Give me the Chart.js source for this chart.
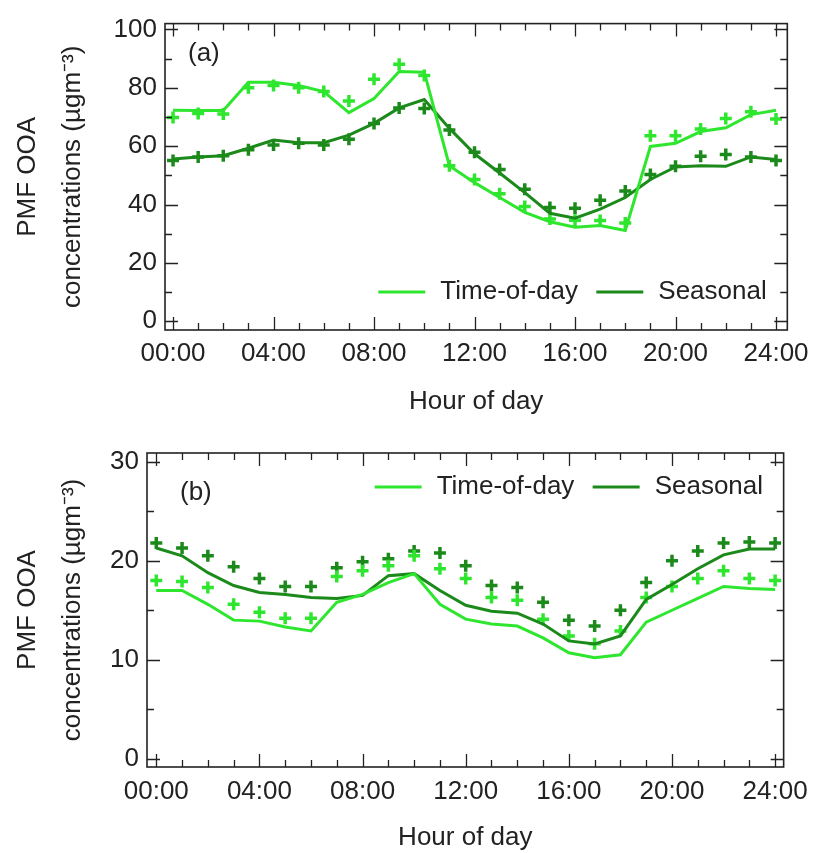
<!DOCTYPE html>
<html><head><meta charset="utf-8">
<script src="https://cdn.jsdelivr.net/npm/chart.js@4.4.1/dist/chart.umd.min.js"></script>
<style>html,body{margin:0;padding:0;background:#fff;overflow:hidden}canvas{position:absolute;left:0}</style>
</head><body>
<canvas id="ca" width="817" height="426" style="top:0px"></canvas>
<canvas id="cb" width="817" height="427" style="top:426px"></canvas>
<script>
// ---- data ----
const hours = [0,1,2,3,4,5,6,7,8,9,10,11,12,13,14,15,16,17,18,19,20,21,22,23,24];
const xMajorTicks = [0,4,8,12,16,20,24];
const yTicksA = [0,20,40,60,80,100];
const yMinorA = [10,30,50,70,90];
const yTicksB = [0,10,20,30];
const yMinorB = [5,15,25];
const seriesNames = ['Time-of-day','Seasonal'];
const panelLabels = ['(a)','(b)'];
const xTitle = 'Hour of day';
const yTitle = ['PMF OOA','concentrations (µgm⁻³)'];

// panel (a)
const todLineA  = [72.3,72.2,72.2,81.9,81.9,80.8,78.7,71.5,76.3,85.6,85.3,53.3,47.5,42.4,37.3,34.1,32.2,32.8,31.1,59.9,61.0,65.0,66.3,70.8,72.3];
const todMarkA  = [69.8,71.2,71.0,80.0,80.8,80.0,78.7,75.5,82.9,88.1,84.2,53.3,48.6,43.7,39.3,35.0,34.6,34.5,33.7,63.6,63.6,65.9,69.5,71.8,69.3];
const seasLineA = [55.6,56.3,56.7,59.3,62.1,61.2,61.2,63.8,67.8,73.1,76.0,66.1,57.4,50.8,44.1,37.0,35.3,38.4,42.4,48.6,52.9,53.3,53.1,56.3,55.4];
const seasMarkA = [55.1,56.3,56.7,58.8,60.4,61.0,60.4,62.4,67.8,73.1,72.9,65.5,57.9,52.0,45.2,39.0,38.7,41.5,44.6,50.3,53.1,56.5,57.1,56.3,55.1];
// panel (b)
const todLineB  = [17.0,17.0,15.6,14.0,13.9,13.3,12.9,15.8,16.6,17.8,18.7,15.6,14.1,13.6,13.4,12.2,10.7,10.2,10.5,13.8,15.0,16.2,17.4,17.2,17.1];
const todMarkB  = [18.0,17.9,17.3,15.6,14.8,14.2,14.2,18.4,19.0,19.5,20.5,19.2,18.2,16.3,16.0,14.1,12.4,11.6,12.9,16.3,17.4,18.2,19.0,18.2,18.0];
const seasLineB = [21.3,20.5,18.8,17.5,16.8,16.6,16.3,16.2,16.5,18.5,18.7,17.0,15.5,14.9,14.7,13.6,11.9,11.6,12.4,16.1,17.6,19.2,20.6,21.2,21.2];
const seasMarkB = [21.8,21.3,20.5,19.4,18.2,17.4,17.4,19.3,19.9,20.2,21.0,20.8,19.5,17.5,17.3,15.8,14.0,13.4,15.0,17.8,20.0,21.0,21.8,21.9,21.8];

// ---- styles ----
const LIGHT = '#2fe62f';
const DARK = '#1b8a1b';
const TXT = '#222';
const FONT = "'Liberation Sans', Arial, Helvetica, sans-serif";
Chart.defaults.font.family = FONT;
Chart.defaults.color = TXT;

const pts = arr => hours.map((h,i) => ({x:h, y:arr[i]}));
const fmtHour = v => String(v).padStart(2,'0') + ':00';

const boxTicks = {
  id: 'boxTicks',
  afterDatasetsDraw(chart, args, o) {
    const {ctx, chartArea: a, scales: {x, y}} = chart;
    ctx.save();
    ctx.strokeStyle = TXT;
    ctx.lineWidth = 1.3;
    ctx.beginPath();
    hours.forEach(v => {
      const px = Math.round(x.getPixelForValue(v)) + 0.5;
      const len = xMajorTicks.includes(v) ? 13 : 7;
      ctx.moveTo(px, a.bottom); ctx.lineTo(px, a.bottom - len);
      ctx.moveTo(px, a.top); ctx.lineTo(px, a.top + len);
    });
    o.yMajor.concat(o.yMinor).forEach(v => {
      const py = Math.round(y.getPixelForValue(v)) + 0.5;
      const len = o.yMajor.includes(v) ? 13 : 7;
      ctx.moveTo(a.left, py); ctx.lineTo(a.left + len, py);
      ctx.moveTo(a.right, py); ctx.lineTo(a.right - len, py);
    });
    ctx.stroke();
    ctx.lineWidth = 1.6;
    ctx.strokeRect(a.left, a.top, a.right - a.left, a.bottom - a.top);
    // panel label
    ctx.font = '26px ' + FONT;
    ctx.fillStyle = TXT;
    ctx.textAlign = 'left';
    ctx.textBaseline = 'middle';
    ctx.fillText(o.label, a.left + o.labelDx, a.top + o.labelDy);
    // legend
    const ly = o.legendFromBottom ? a.bottom - o.legendDy : a.top + o.legendDy;
    const items = chart.data.datasets.filter(d => d.inLegend);
    const offs = [[409, 362, 347], [191, 144, 129]];
    items.forEach((d, i) => {
      const [l0, l1, t0] = offs[i];
      ctx.strokeStyle = d.borderColor;
      ctx.lineWidth = 3;
      ctx.beginPath();
      ctx.moveTo(a.right - l0, ly); ctx.lineTo(a.right - l1, ly);
      ctx.stroke();
      ctx.fillText(d.label, a.right - t0, ly);
    });
    ctx.restore();
  }
};

function makeChart(id, cfg) {
  const lineDs = (label, arr, color) => ({label, data: pts(arr), borderColor: color, backgroundColor: color,
    borderWidth: 3, pointRadius: 0, tension: 0, fill: false, inLegend: true});
  const markDs = (label, arr, color) => ({label, data: pts(arr), borderColor: color, backgroundColor: color,
    showLine: false, pointStyle: 'cross', pointRadius: 6, pointBorderWidth: 3.5, inLegend: false});
  return new Chart(document.getElementById(id), {
    type: 'line',
    data: {datasets: [
      lineDs(seriesNames[0], cfg.tl, LIGHT),
      lineDs(seriesNames[1], cfg.sl, DARK),
      markDs(seriesNames[0] + ' markers', cfg.tm, LIGHT),
      markDs(seriesNames[1] + ' markers', cfg.sm, DARK)
    ]},
    options: {
      responsive: false, animation: false, devicePixelRatio: 1,
      layout: {padding: {top: cfg.padTop, right: 25, left: 0, bottom: 0}},
      plugins: {legend: {display: false}, tooltip: {enabled: false},
        boxTicks: {yMajor: cfg.yMajor, yMinor: cfg.yMinor, label: cfg.label,
          labelDx: cfg.labelDx, labelDy: cfg.labelDy, legendDy: cfg.legendDy, legendFromBottom: cfg.legendFromBottom}},
      scales: {
        x: {type: 'linear', min: cfg.xmin, max: cfg.xmax,
          afterBuildTicks: s => { s.ticks = xMajorTicks.map(v => ({value: v})); },
          ticks: {callback: v => fmtHour(v), padding: cfg.xTickPad, maxRotation: 0, autoSkip: false, font: {size: 26}, color: TXT},
          grid: {display: false, drawTicks: false}, border: {display: false},
          title: {display: true, text: xTitle, font: {size: 26}, color: TXT, padding: {top: 0, bottom: cfg.xTitlePad}},
          afterFit: s => { s.height = cfg.xHeight; }},
        y: {type: 'linear', min: cfg.ymin, max: cfg.ymax,
          afterBuildTicks: s => { s.ticks = cfg.yMajor.map(v => ({value: v})); },
          ticks: {padding: 8, font: {size: 26}, color: TXT},
          grid: {display: false, drawTicks: false}, border: {display: false},
          title: {display: true, text: yTitle, font: {size: 26, lineHeight: 1.73}, color: TXT, padding: {top: 5, bottom: 0}},
          afterFit: s => { s.width = cfg.yWidth; }}
      }
    },
    plugins: [boxTicks]
  });
}

makeChart('ca', {tl: todLineA, sl: seasLineA, tm: todMarkA, sm: seasMarkA,
  xmin: -0.32, xmax: 24.45, ymin: -3, ymax: 102, yMajor: yTicksA, yMinor: yMinorA,
  padTop: 19, yWidth: 165, xHeight: 96, xTickPad: 8, xTitlePad: 9,
  label: panelLabels[0], labelDx: 23, labelDy: 30, legendDy: 38, legendFromBottom: true});
makeChart('cb', {tl: todLineB, sl: seasLineB, tm: todMarkB, sm: seasMarkB,
  xmin: -0.36, xmax: 24.33, ymin: -0.85, ymax: 30.9, yMajor: yTicksB, yMinor: yMinorB,
  padTop: 27, yWidth: 147, xHeight: 86, xTickPad: 9, xTitlePad: 0,
  label: panelLabels[1], labelDx: 33, labelDy: 40, legendDy: 34, legendFromBottom: false});
</script>
</body></html>
